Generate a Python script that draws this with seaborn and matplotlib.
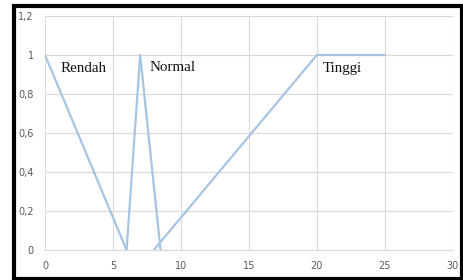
import matplotlib
matplotlib.use("Agg")
import matplotlib.pyplot as plt
import pandas as pd
import seaborn as sns
from matplotlib.patches import Rectangle
from matplotlib.ticker import FuncFormatter

# membership functions (x, derajat keanggotaan)
rendah_x = [0, 6]
rendah_y = [1, 0]
normal_x = [6, 7, 8.5]
normal_y = [0, 1, 0]
tinggi_x = [8, 20, 25]
tinggi_y = [0, 1, 1]

labels = ["Rendah", "Normal", "Tinggi"]
label_x = [1.15, 7.72, 20.4]
label_y = [0.915, 0.918, 0.915]

x_ticks = [0, 5, 10, 15, 20, 25, 30]
y_ticks = [0, 0.2, 0.4, 0.6, 0.8, 1.0, 1.2]

sns.set_theme(style="white")

df = pd.concat([
    pd.DataFrame({"x": rendah_x, "y": rendah_y, "set": "Rendah"}),
    pd.DataFrame({"x": normal_x, "y": normal_y, "set": "Normal"}),
    pd.DataFrame({"x": tinggi_x, "y": tinggi_y, "set": "Tinggi"}),
])

fig = plt.figure(figsize=(4.64, 2.8), dpi=100)
ax = fig.add_axes([0.097, 0.107, 0.879, 0.836])

line_col = "#A7C4E2"
for name, grp in df.groupby("set", sort=False):
    sns.lineplot(data=grp, x="x", y="y", sort=False, ax=ax, color=line_col,
                 linewidth=1.6, legend=False, estimator=None)

ax.set_xlim(0, 30)
ax.set_ylim(0, 1.2)
ax.set_xticks(x_ticks)
ax.set_yticks(y_ticks)
ax.yaxis.set_major_formatter(FuncFormatter(
    lambda v, _: "0" if v == 0 else ("1" if abs(v - 1) < 1e-9 else f"{v:.1f}".replace(".", ","))))
ax.xaxis.set_major_formatter(FuncFormatter(lambda v, _: f"{int(v)}"))
ax.grid(True, color="#D9D9D9", linewidth=0.8)
ax.set_axisbelow(True)
for s in ["top", "right", "left"]:
    ax.spines[s].set_visible(False)
ax.spines["bottom"].set_color("#D9D9D9")
ax.spines["bottom"].set_linewidth(0.8)
ax.tick_params(axis="both", length=0, labelsize=7, colors="#595959", pad=8)
ax.set_xlabel("")
ax.set_ylabel("")

for t, tx, ty in zip(labels, label_x, label_y):
    ax.text(tx, ty, t, fontsize=10.8, family="Liberation Serif", color="#111111",
            va="baseline", ha="left")

# black frame round the picture
fig.patches.append(Rectangle((14 / 464, 1.5 / 280), 448.5 / 464, 272.5 / 280,
                             transform=fig.transFigure, fill=False,
                             edgecolor="black", linewidth=3))

fig.savefig("out.png", dpi=100)
